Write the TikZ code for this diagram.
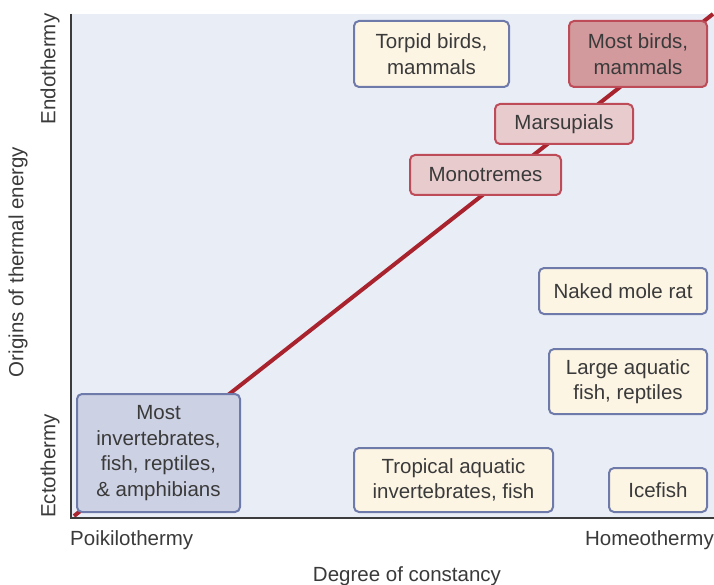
\documentclass[tikz,border=0pt]{standalone}
\usepackage{fontspec}
\setmainfont{Liberation Sans}
\usepackage{tikz}
\definecolor{plotbg}{HTML}{E9EEF6}
\definecolor{ink}{HTML}{3A3A3A}
\definecolor{axis}{HTML}{3C3C3C}
\definecolor{trend}{HTML}{A8232D}
\definecolor{edgeblue}{HTML}{6E7AAA}
\definecolor{edgered}{HTML}{BE4C58}
\definecolor{cream}{HTML}{FDF5E4}
\definecolor{rose}{HTML}{E8CBCD}
\definecolor{deeprose}{HTML}{D29A9D}
\definecolor{lavender}{HTML}{CDD1E4}
\tikzstyle{taxon}=[draw=edgeblue, fill=cream, line width=2pt, rounded corners=5pt,
align=center, inner sep=0pt, text=ink]
\tikzstyle{endo}=[taxon, draw=edgered, fill=rose]
\tikzstyle{axlabel}=[inner sep=0pt, text=ink]

\begin{document}
\begin{tikzpicture}[x=1pt,y=-1pt,font=\fontsize{20.5}{25.5}\selectfont]
      \useasboundingbox (0,0) rectangle (714,585);
      \fill[plotbg] (71,14) rectangle (714,518);
      \coordinate (o) at (71,518);
      \coordinate (top) at (71,14);
      \coordinate (right) at (714,518);
      \coordinate (cold) at (74,516);
      \coordinate (hot) at (713,14);
      \draw[trend, line width=4pt] (cold) -- (hot);
      \draw[axis, line width=2pt] (top) -- (o) -- (right);
      \node [taxon, minimum width=155pt, minimum height=66pt] (torpid) at (431.5,54) {Torpid birds,\\mammals};
      \node [endo, fill=deeprose, minimum width=138pt, minimum height=66pt] (birds) at (638,54) {Most birds,\\mammals};
      \node [endo, minimum width=138pt, minimum height=40pt] (marsup) at (564,124) {Marsupials};
      \node [endo, minimum width=151pt, minimum height=40pt] (mono) at (485.5,175) {Monotremes};
      \node [taxon, minimum width=168pt, minimum height=46pt] (mole) at (623,291) {Naked mole rat};
      \node [taxon, minimum width=158pt, minimum height=65pt] (large) at (628,381.5) {Large aquatic\\fish, reptiles};
      \node [taxon, minimum width=199pt, minimum height=64pt] (tropical) at (453.5,480) {Tropical aquatic\\invertebrates, fish};
      \node [taxon, minimum width=98pt, minimum height=44pt] (ice) at (658,490) {Icefish};
      \node [taxon, fill=lavender, minimum width=163pt, minimum height=118pt] (inv) at (158.5,453) {Most\\invertebrates,\\fish, reptiles,\\\& amphibians};
      \node [axlabel, rotate=90] (endotherm) at (50,69) {Endothermy};
      \node [axlabel, rotate=90] (ectotherm) at (50,466) {Ectothermy};
      \node [axlabel, rotate=90] (ylab) at (18,262) {Origins of thermal energy};
      \node [axlabel, anchor=west] (poik) at (70,540) {Poikilothermy};
      \node [axlabel, anchor=east] (homeo) at (714,540) {Homeothermy};
      \node [axlabel] (xlab) at (407,576) {Degree of constancy};
  \end{tikzpicture}
\end{document}
